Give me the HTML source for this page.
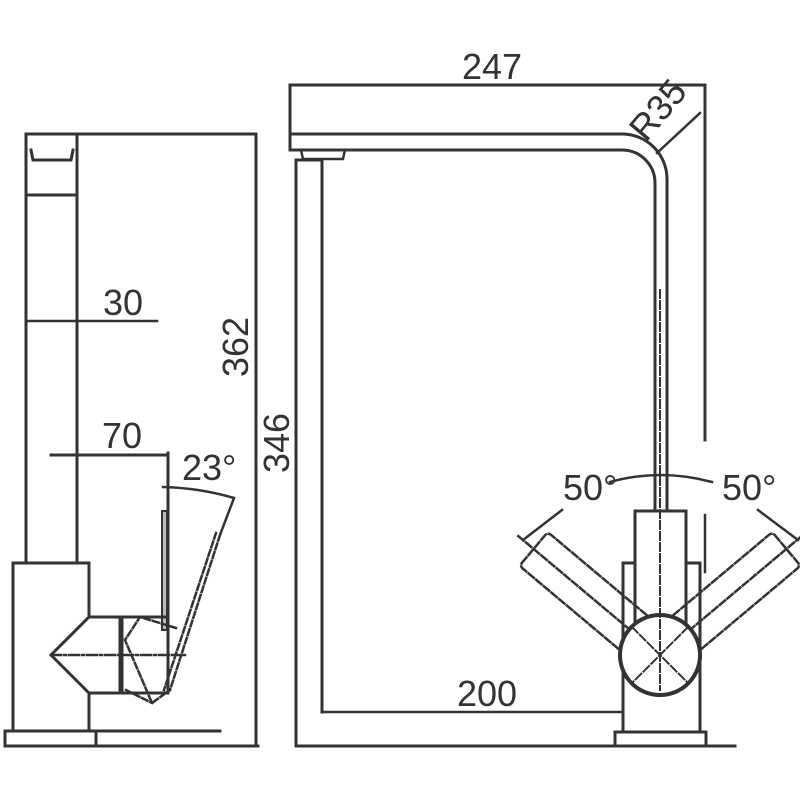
<!DOCTYPE html>
<html><head><meta charset="utf-8"><style>html,body{margin:0;padding:0;background:#fff}svg{display:block}</style></head>
<body>
<svg width="800" height="800" viewBox="0 0 800 800" xmlns="http://www.w3.org/2000/svg">
<g fill="none" stroke="#333" stroke-width="3" stroke-linecap="square">
<!-- LEFT VIEW -->
<rect x="26" y="134" width="51" height="429"/>
<line x1="77" y1="134" x2="256" y2="134"/>
<line x1="26" y1="195" x2="77" y2="195"/>
<path d="M31 150 L33 160 L71 160 L73 150"/>
<line x1="26" y1="321" x2="157" y2="321" stroke-width="2.5"/>
<line x1="256" y1="134" x2="256" y2="746"/>
<line x1="51" y1="455" x2="168" y2="455"/>
<line x1="168" y1="453" x2="168" y2="692"/>
<rect x="162" y="511" width="5" height="119" stroke-width="2" fill="#bbb"/>
<path d="M163 487 Q200 488 234 498" stroke-width="2.5"/>
<line x1="234" y1="498" x2="220" y2="535" stroke-width="2.5"/>
<g stroke-dasharray="6 3" stroke-width="2.5">
<line x1="220" y1="535" x2="170" y2="690"/>
<line x1="216" y1="533" x2="164" y2="690"/>
<polyline points="176,628 140,617 125,640 152,703 170,690"/>
<line x1="126" y1="690" x2="152" y2="703"/>
</g>
<rect x="13" y="563" width="76" height="168"/>
<path d="M89 617 L120 617 L120 693 L89 693 L51 655 Z" fill="#fff"/>
<rect x="122" y="617" width="46" height="76"/>
<line x1="51" y1="655" x2="185" y2="655" stroke-dasharray="10 3 2 3" stroke-width="2.5"/>
<rect x="5" y="731" width="91" height="15" fill="#fff"/>
<line x1="96" y1="731" x2="220" y2="731"/>
<line x1="5" y1="746" x2="258" y2="746"/>
<!-- RIGHT VIEW -->
<line x1="290" y1="85" x2="705" y2="85"/>
<line x1="290" y1="85" x2="290" y2="135"/>
<line x1="705" y1="85" x2="705" y2="440"/>
<path d="M290 134 L622 134 A45 45 0 0 1 667 179 L667 511"/>
<path d="M293 150 L622 150 A33 33 0 0 1 655 183 L655 511"/>
<line x1="290" y1="134" x2="290" y2="150"/>
<path d="M301 150 L303 159 L343 159 L345 150" stroke-width="2.5"/>
<line x1="657" y1="153" x2="700" y2="113" stroke-width="2.5"/>
<line x1="296" y1="160" x2="296" y2="746"/>
<line x1="322" y1="160" x2="322" y2="712"/>
<line x1="296" y1="160" x2="322" y2="160"/>
<line x1="322" y1="712" x2="660" y2="712" stroke-width="2.5"/>
<line x1="296" y1="746" x2="735" y2="746"/>
<line x1="705" y1="515" x2="705" y2="572" stroke-width="2.5"/>
<path d="M523 540 L562 510" stroke-width="2.5"/>
<path d="M610 482 Q660 468 712 482" stroke-width="2.5"/>
<path d="M758 510 L798 540" stroke-width="2.5"/>
<rect x="623" y="563" width="77" height="169" fill="#fff"/>
<rect x="635" y="511" width="51" height="140" fill="#fff"/>
<rect x="615" y="732" width="91" height="14" fill="#fff"/>
<g stroke-dasharray="7 3" stroke-width="2.5">
<g transform="rotate(-50 660 655)"><rect x="638" y="490" width="44" height="155" rx="4"/><line x1="660" y1="470" x2="660" y2="695"/></g>
<g transform="rotate(50 660 655)"><rect x="638" y="490" width="44" height="155" rx="4"/><line x1="660" y1="470" x2="660" y2="695"/></g>
</g>
<circle cx="660" cy="655" r="40" fill="#fff" stroke-width="4" stroke-dasharray="3 1.5"/>
<g stroke-dasharray="8 3" stroke-width="2">
<line x1="632" y1="627" x2="688" y2="683"/><line x1="688" y1="627" x2="632" y2="683"/>
<line x1="660" y1="290" x2="660" y2="690"/>
</g>
</g>
<g font-family="Liberation Sans, sans-serif" font-size="36" fill="#333">
<text x="462" y="79">247</text>
<text x="103" y="315">30</text>
<text x="102" y="448">70</text>
<text x="182" y="480">23°</text>
<text x="0" y="0" transform="translate(248,377) rotate(-90)">362</text>
<text x="0" y="0" transform="translate(289,473) rotate(-90)">346</text>
<text x="0" y="0" transform="translate(646,143) rotate(-50)">R35</text>
<text x="457" y="706">200</text>
<text x="563" y="500">50°</text>
<text x="722" y="500">50°</text>
</g>
</svg>
</body></html>
